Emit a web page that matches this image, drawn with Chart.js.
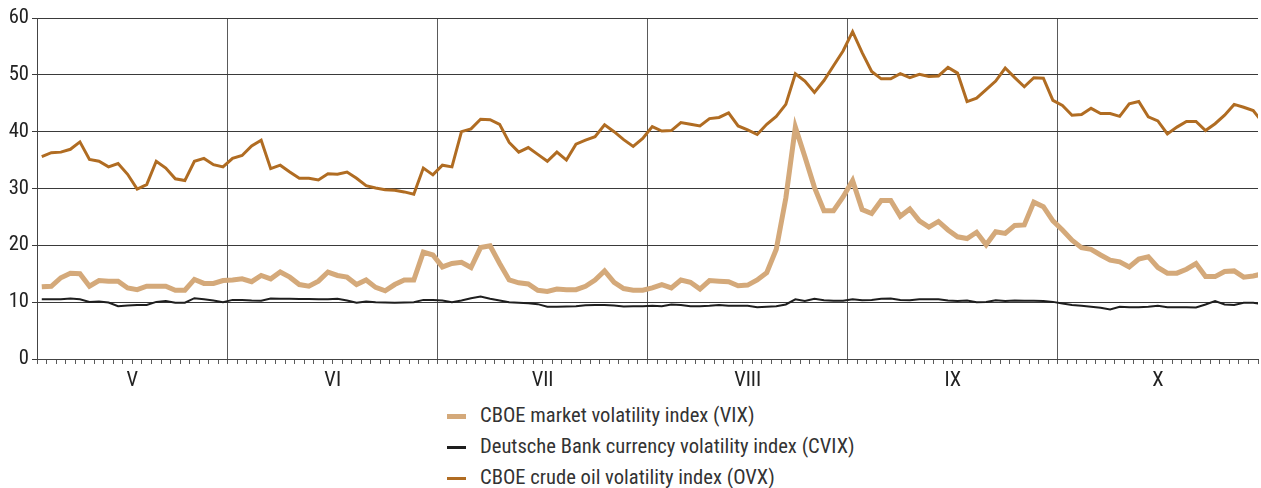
<!DOCTYPE html>
<html>
<head>
<meta charset="utf-8">
<script src="https://cdn.jsdelivr.net/npm/chart.js@4.4.0/dist/chart.umd.min.js"></script>
<style>
  body { margin: 0; background: #fff; }
  #wrap { position: relative; width: 1261px; height: 488px; overflow: hidden; }
  #chart-box { position: absolute; left: 0; top: 0; width: 1261px; height: 400px; }
  #legend { position: absolute; left: 447px; top: 400px; margin: 0; padding: 0; list-style: none;
    font-family: 'Liberation Sans Narrow', 'Roboto Condensed', 'DejaVu Sans Condensed', sans-serif;
    font-size: 20.6px; color: #333; }
  #legend li { height: 31px; line-height: 31px; white-space: nowrap; }
  #legend span { display: inline-block; width: 19px; vertical-align: middle; margin-right: 14px; }
</style>
</head>
<body>
<div id="wrap">
  <div id="chart-box"><canvas id="vol-canvas"></canvas></div>
  <ul id="legend"></ul>
</div>
<script>
'use strict';

const months = ['V', 'VI', 'VII', 'VIII', 'IX', 'X'];
const daysInMonth = [20, 22, 22, 21, 22, 22];
const yTicks = [0, 10, 20, 30, 40, 50, 60];

const vixLabel = 'CBOE market volatility index (VIX)';
const cvixLabel = 'Deutsche Bank currency volatility index (CVIX)';
const ovxLabel = 'CBOE crude oil volatility index (OVX)';

const vix = [
    12.7, 12.8, 14.3, 15.1, 15.0, 12.8, 13.8, 13.7, 13.7, 12.5, 12.2, 12.8, 12.8, 12.8, 12.1, 12.1, 14.0, 13.3, 13.3, 13.8,
    13.9, 14.1, 13.6, 14.7, 14.1, 15.3, 14.4, 13.1, 12.8, 13.7, 15.3, 14.7, 14.4, 13.1, 13.9, 12.6, 12.0, 13.1, 13.9, 13.9, 18.8, 18.3,
    16.2, 16.8, 17.0, 16.1, 19.6, 19.9, 16.8, 13.9, 13.4, 13.2, 12.1, 11.9, 12.3, 12.2, 12.2, 12.8, 13.9, 15.5, 13.5, 12.4, 12.1, 12.1,
    12.5, 13.1, 12.5, 13.9, 13.5, 12.3, 13.8, 13.7, 13.6, 12.9, 13.0, 13.9, 15.2, 19.3, 28.3, 40.8, 35.6, 30.2, 26.1, 26.1, 28.5,
    31.4, 26.3, 25.6, 27.9, 27.9, 25.1, 26.4, 24.3, 23.2, 24.2, 22.7, 21.5, 21.2, 22.3, 20.1, 22.4, 22.1, 23.5, 23.6, 27.6, 26.8, 24.3,
    22.7, 20.9, 19.6, 19.3, 18.3, 17.4, 17.1, 16.2, 17.6, 18.0, 16.1, 15.1, 15.1, 15.8, 16.8, 14.5, 14.5, 15.4, 15.5, 14.4, 14.6, 15.0
];
const cvix = [
    10.5, 10.5, 10.5, 10.65, 10.5, 10.05, 10.1, 9.95, 9.3, 9.4, 9.5, 9.5, 10.05, 10.2, 9.9, 9.9, 10.7, 10.5, 10.3, 10.0,
    10.4, 10.4, 10.3, 10.25, 10.65, 10.6, 10.6, 10.55, 10.55, 10.5, 10.5, 10.6, 10.3, 9.9, 10.1, 10.0, 9.95, 9.9, 9.95, 10.0, 10.4, 10.4,
    10.3, 10.0, 10.3, 10.7, 11.0, 10.6, 10.3, 10.0, 9.9, 9.8, 9.65, 9.2, 9.2, 9.25, 9.3, 9.45, 9.5, 9.5, 9.4, 9.25, 9.3, 9.3,
    9.35, 9.3, 9.6, 9.5, 9.3, 9.3, 9.35, 9.5, 9.35, 9.35, 9.35, 9.1, 9.2, 9.3, 9.6, 10.5, 10.2, 10.6, 10.35, 10.25, 10.25,
    10.5, 10.35, 10.4, 10.6, 10.65, 10.4, 10.35, 10.5, 10.5, 10.5, 10.3, 10.2, 10.3, 10.0, 10.05, 10.35, 10.2, 10.3, 10.25, 10.25, 10.2, 10.05,
    9.75, 9.5, 9.35, 9.2, 9.0, 8.7, 9.2, 9.1, 9.1, 9.2, 9.35, 9.1, 9.1, 9.1, 9.05, 9.6, 10.2, 9.6, 9.5, 9.9, 9.9, 9.6
];
const ovx = [
    35.6, 36.3, 36.4, 36.9, 38.2, 35.1, 34.8, 33.8, 34.4, 32.5, 29.9, 30.7, 34.8, 33.6, 31.7, 31.4, 34.8, 35.3, 34.2, 33.8,
    35.3, 35.8, 37.5, 38.5, 33.5, 34.1, 32.9, 31.8, 31.8, 31.5, 32.6, 32.5, 32.9, 31.8, 30.5, 30.1, 29.8, 29.7, 29.4, 29.0, 33.6, 32.4,
    34.1, 33.8, 40.0, 40.5, 42.2, 42.1, 41.3, 38.1, 36.4, 37.2, 36.0, 34.8, 36.4, 35.0, 37.8, 38.5, 39.1, 41.2, 40.0, 38.6, 37.4, 38.8,
    40.9, 40.1, 40.2, 41.6, 41.3, 41.0, 42.3, 42.5, 43.3, 41.0, 40.3, 39.5, 41.3, 42.7, 44.8, 50.2, 48.9, 46.9, 49.0, 51.6, 54.2,
    57.6, 53.9, 50.6, 49.3, 49.3, 50.2, 49.5, 50.1, 49.7, 49.8, 51.3, 50.3, 45.3, 45.9, 47.4, 48.9, 51.2, 49.5, 47.9, 49.5, 49.4, 45.5,
    44.6, 42.9, 43.0, 44.1, 43.2, 43.2, 42.7, 44.9, 45.3, 42.6, 41.9, 39.6, 40.8, 41.8, 41.8, 40.2, 41.4, 42.9, 44.8, 44.3, 43.7, 41.6
];

const fontFamily = "'Liberation Sans Narrow', 'Roboto Condensed', 'DejaVu Sans Condensed', sans-serif";

// начала месяцев (номер дня в ряду)
function getMonthStarts() {
    let starts = [];
    let n = 0;
    for (let m = 0; m < months.length; m++) {
        starts.push(n);
        n += daysInMonth[m];
    }
    return starts;
}
// точки {x: номер дня, y: значение}
function toPoints(values) {
    return values.map((v, i) => ({ x: i, y: v }));
}

const monthStarts = getMonthStarts();
// последний день октября выходит за правый край оси
const visibleDays = vix.length - 1;

// названия месяцев по центру каждого месяца
const monthLabels = {
    id: 'monthLabels',
    afterDraw(chart) {
        let xs = chart.scales.x;
        let ctx = chart.ctx;
        ctx.save();
        ctx.font = '20.6px ' + fontFamily;
        ctx.fillStyle = '#222';
        ctx.textAlign = 'center';
        ctx.textBaseline = 'middle';
        for (let m = 0; m < months.length; m++) {
            let a = xs.getPixelForValue(monthStarts[m] - 0.5);
            let b = m < months.length - 1 ? xs.getPixelForValue(monthStarts[m + 1] - 0.5) : xs.right;
            ctx.fillText(months[m], (a + b) / 2, 381);
        }
        ctx.restore();
    }
};

let chart = new Chart(document.getElementById('vol-canvas'), {
    type: 'line',
    data: {
        datasets: [
            { label: vixLabel, data: toPoints(vix), borderColor: '#d4a97a', borderWidth: 5 },
            { label: cvixLabel, data: toPoints(cvix), borderColor: '#1e1e1e', borderWidth: 2 },
            { label: ovxLabel, data: toPoints(ovx), borderColor: '#b06c22', borderWidth: 3 }
        ]
    },
    options: {
        responsive: true,
        maintainAspectRatio: false,
        animation: false,
        events: [],
        layout: { padding: { top: 18, left: 0, right: 0, bottom: 0 } },
        elements: { point: { radius: 0 }, line: { tension: 0 } },
        plugins: { legend: { display: false }, tooltip: { enabled: false } },
        scales: {
            x: {
                type: 'linear',
                min: -0.5,
                max: visibleDays - 0.5,
                afterBuildTicks: s => {
                    let ticks = [];
                    for (let k = 0; k <= visibleDays; k++) ticks.push({ value: k - 0.5 });
                    s.ticks = ticks;
                },
                grid: {
                    color: c => monthStarts.includes(c.index) && c.index > 0 ? '#5a5a5a' : 'rgba(0,0,0,0)',
                    tickColor: '#5a5a5a',
                    tickLength: 5
                },
                border: { color: '#444' },
                ticks: { autoSkip: false, maxRotation: 0, callback: () => '' },
                afterFit: s => { s.height = 41; }
            },
            y: {
                min: 0,
                max: 60,
                afterBuildTicks: s => { s.ticks = yTicks.map(v => ({ value: v })); },
                grid: { color: '#3a3a3a', tickColor: '#3a3a3a', tickLength: 5 },
                border: { color: '#444' },
                ticks: { padding: 3, color: '#222', font: { family: fontFamily, size: 20.6 } },
                afterFit: s => { s.width = 37; }
            }
        }
    },
    plugins: [monthLabels]
});

// легенда под графиком
(function createLegend() {
    let ul = document.getElementById('legend');
    chart.data.datasets.forEach(ds => {
        let li = document.createElement('li');
        let h = ds.borderWidth >= 5 ? 5 : 3;
        li.innerHTML = `<span style="height:${h}px;background:${ds.borderColor};"></span>${ds.label}`;
        ul.appendChild(li);
    });
})();
</script>
</body>
</html>
